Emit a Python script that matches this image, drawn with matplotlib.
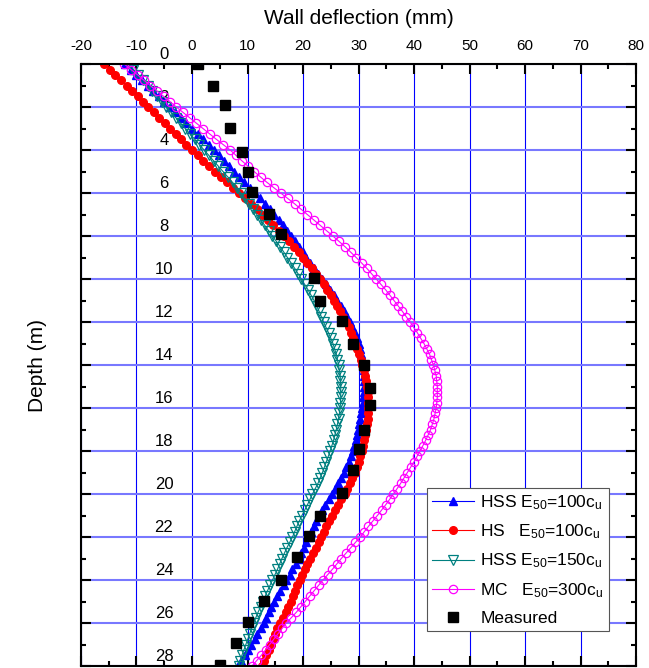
import matplotlib
matplotlib.use("Agg")
import matplotlib.pyplot as plt
import matplotlib.transforms as mtransforms
from matplotlib.ticker import MultipleLocator

plt.rcParams['font.family'] = ['Liberation Sans', 'DejaVu Sans']
plt.rcParams['mathtext.default'] = 'regular'
plt.rcParams['axes.unicode_minus'] = False

# depth of the FE output nodes (m)
depth_model = [
    0.0, 0.25, 0.5, 0.75, 1.0, 1.25, 1.5, 1.75,
    2.0, 2.25, 2.5, 2.75, 3.0, 3.25, 3.5, 3.75,
    4.0, 4.25, 4.5, 4.75, 5.0, 5.25, 5.5, 5.75,
    6.0, 6.25, 6.5, 6.75, 7.0, 7.25, 7.5, 7.75,
    8.0, 8.25, 8.5, 8.75, 9.0, 9.25, 9.5, 9.75,
    10.0, 10.25, 10.5, 10.75, 11.0, 11.25, 11.5, 11.75,
    12.0, 12.25, 12.5, 12.75, 13.0, 13.25, 13.5, 13.75,
    14.0, 14.25, 14.5, 14.75, 15.0, 15.25, 15.5, 15.75,
    16.0, 16.25, 16.5, 16.75, 17.0, 17.25, 17.5, 17.75,
    18.0, 18.25, 18.5, 18.75, 19.0, 19.25, 19.5, 19.75,
    20.0, 20.25, 20.5, 20.75, 21.0, 21.25, 21.5, 21.75,
    22.0, 22.25, 22.5, 22.75, 23.0, 23.25, 23.5, 23.75,
    24.0, 24.25, 24.5, 24.75, 25.0, 25.25, 25.5, 25.75,
    26.0, 26.25, 26.5, 26.75, 27.0, 27.25, 27.5, 27.75,
    28.0]

# wall deflection (mm)
hss_100 = [
    -12.0, -11.0, -10.0, -9.0, -8.0, -7.0, -6.0, -5.0,
    -4.0, -3.0, -2.0, -1.0, 0.0, 1.0, 2.0, 3.0,
    3.9, 4.8, 5.7, 6.6, 7.5, 8.5, 9.4, 10.4,
    11.3, 12.2, 13.1, 14.0, 14.8, 15.6, 16.4, 17.2,
    17.9, 18.6, 19.3, 20.0, 20.6, 21.3, 21.9, 22.7,
    23.5, 24.2, 24.9, 25.6, 26.2, 26.8, 27.4, 28.0,
    28.5, 28.9, 29.3, 29.7, 30.0, 30.3, 30.5, 30.7,
    30.8, 30.9, 30.95, 30.95, 30.95, 30.9, 30.85, 30.75,
    30.6, 30.45, 30.3, 30.1, 29.9, 29.7, 29.5, 29.25,
    29.0, 28.6, 28.2, 27.8, 27.3, 26.8, 26.3, 25.8,
    25.2, 24.6, 24.0, 23.4, 22.8, 22.3, 21.9, 21.5,
    21.1, 20.6, 20.1, 19.7, 19.2, 18.7, 18.1, 17.6,
    17.0, 16.5, 15.9, 15.4, 14.8, 14.3, 13.8, 13.4,
    12.9, 12.4, 11.8, 11.3, 10.7, 10.1, 9.5, 8.9,
    8.3]

hs_100 = [
    -15.8, -14.8, -13.8, -12.8, -11.8, -10.8, -9.8, -8.8,
    -7.9, -6.9, -5.9, -4.9, -3.9, -2.9, -2.0, -1.0,
    0.0, 1.0, 2.0, 3.1, 4.2, 5.2, 6.3, 7.4,
    8.5, 9.5, 10.6, 11.7, 12.7, 13.7, 14.6, 15.6,
    16.6, 17.5, 18.4, 19.2, 20.0, 20.8, 21.6, 22.4,
    23.1, 23.8, 24.4, 25.0, 25.6, 26.2, 26.7, 27.2,
    27.7, 28.2, 28.6, 29.0, 29.4, 29.8, 30.1, 30.4,
    30.7, 31.0, 31.2, 31.4, 31.55, 31.65, 31.75, 31.8,
    31.8, 31.75, 31.7, 31.55, 31.4, 31.2, 31.0, 30.8,
    30.6, 30.3, 30.0, 29.7, 29.3, 28.9, 28.5, 28.0,
    27.5, 26.9, 26.3, 25.7, 25.2, 24.7, 24.2, 23.7,
    23.3, 22.8, 22.3, 21.8, 21.3, 20.8, 20.4, 19.9,
    19.4, 19.0, 18.6, 18.2, 17.75, 17.3, 16.9, 16.4,
    15.9, 15.4, 15.0, 14.6, 14.2, 13.8, 13.4, 13.0,
    12.6]

hss_150 = [
    -11.4, -10.55, -9.7, -8.85, -8.0, -7.15, -6.3, -5.45,
    -4.6, -3.75, -2.9, -2.05, -1.2, -0.35, 0.5, 1.35,
    2.2, 3.05, 3.9, 4.75, 5.6, 6.45, 7.3, 8.05,
    8.8, 9.55, 10.3, 11.0, 11.7, 12.4, 13.1, 13.8,
    14.5, 15.2, 15.9, 16.55, 17.2, 17.85, 18.5, 19.1,
    19.7, 20.3, 20.9, 21.45, 22.0, 22.45, 22.9, 23.3,
    23.7, 24.15, 24.6, 25.0, 25.4, 25.7, 26.0, 26.2,
    26.4, 26.55, 26.7, 26.75, 26.8, 26.8, 26.8, 26.75,
    26.7, 26.55, 26.4, 26.2, 26.0, 25.75, 25.5, 25.2,
    24.9, 24.55, 24.2, 23.85, 23.5, 23.1, 22.7, 22.2,
    21.7, 21.25, 20.8, 20.3, 19.8, 19.35, 18.9, 18.5,
    18.1, 17.6, 17.1, 16.65, 16.2, 15.8, 15.4, 14.95,
    14.5, 14.05, 13.6, 13.2, 12.8, 12.35, 11.9, 11.5,
    11.1, 10.75, 10.4, 10.05, 9.7, 9.35, 9.0, 8.7,
    8.4]

mc_300 = [
    -12.2, -11.0, -9.8, -8.65, -7.5, -6.3, -5.1, -3.95,
    -2.8, -1.6, -0.4, 0.8, 2.0, 3.2, 4.4, 5.65,
    6.9, 7.95, 9.0, 10.1, 11.2, 12.35, 13.5, 14.75,
    16.0, 17.25, 18.5, 19.65, 20.8, 21.95, 23.1, 24.25,
    25.4, 26.5, 27.6, 28.6, 29.6, 30.55, 31.5, 32.35,
    33.2, 34.05, 34.9, 35.65, 36.4, 37.15, 37.9, 38.6,
    39.3, 39.95, 40.6, 41.2, 41.8, 42.3, 42.8, 43.15,
    43.5, 43.75, 44.0, 44.1, 44.2, 44.2, 44.2, 44.1,
    44.0, 43.8, 43.6, 43.3, 43.0, 42.55, 42.1, 41.6,
    41.1, 40.55, 40.0, 39.4, 38.8, 38.2, 37.6, 36.95,
    36.3, 35.6, 34.9, 34.15, 33.4, 32.6, 31.8, 31.05,
    30.3, 29.45, 28.6, 27.75, 26.9, 26.1, 25.3, 24.45,
    23.6, 22.8, 22.0, 21.2, 20.4, 19.6, 18.8, 17.9,
    17.0, 16.25, 15.5, 14.75, 14.0, 13.25, 12.5, 11.65,
    10.8]

# inclinometer readings
depth_meas = [0.0, 1.0, 1.9, 2.95, 4.1, 5.0, 5.97, 6.96, 7.9, 9.95,
              11.04, 11.96, 13.0, 13.98, 15.06, 15.88, 17.03, 17.9, 18.9, 19.93,
              21.0, 21.95, 22.95, 23.99, 24.97, 25.94, 26.93, 27.95]
defl_meas = [1.0, 3.8, 5.9, 6.9, 9.0, 10.0, 10.9, 13.9, 16.0, 21.9,
             23.1, 27.0, 29.0, 31.0, 32.0, 32.0, 31.0, 30.1, 29.0, 27.0,
             23.0, 21.0, 19.0, 16.0, 12.9, 10.0, 7.9, 5.0]

labels = ['HSS E$_{50}$=100c$_{u}$',
          'HS   E$_{50}$=100c$_{u}$',
          'HSS E$_{50}$=150c$_{u}$',
          'MC   E$_{50}$=300c$_{u}$',
          'Measured']
x_ticks = [-20, -10, 0, 10, 20, 30, 40, 50, 60, 70, 80]
depth_ticks = [0, 2, 4, 6, 8, 10, 12, 14, 16, 18, 20, 22, 24, 26, 28]

fig = plt.figure(figsize=(6.49, 6.68), dpi=100)
ax = fig.add_axes([0.1248, 0.003, 0.8552, 0.901])

ax.plot(hss_100, depth_model, '-^', color='#0000ff', lw=0.8, ms=6, label=labels[0])
ax.plot(hs_100, depth_model, '-o', color='#ff0000', lw=0.8, ms=5.5, label=labels[1])
ax.plot(hss_150, depth_model, '-v', color='#008080', lw=0.8, ms=6.5,
        mfc='none', mew=0.9, label=labels[2])
ax.plot(mc_300, depth_model, '-o', color='#ff00ff', lw=0.8, ms=6,
        mfc='none', mew=0.9, label=labels[3])
ax.plot(defl_meas, depth_meas, 's', color='black', ms=7, ls='none',
        zorder=5, label=labels[4])

ax.set_xlim(-20, 80)
ax.set_ylim(28, 0)

ax.xaxis.tick_top()
ax.xaxis.set_label_position('top')
ax.set_xticks(x_ticks)
ax.xaxis.set_minor_locator(MultipleLocator(5))
ax.set_yticks(depth_ticks)
ax.yaxis.set_minor_locator(MultipleLocator(1))
ax.tick_params(which='both', direction='in', top=True, bottom=True,
               left=True, right=True, width=1.5)
ax.tick_params(which='major', length=7)
ax.tick_params(which='minor', length=3.5)
ax.tick_params(axis='x', labeltop=True, labelbottom=False, labelsize=11, pad=8)
ax.tick_params(axis='y', labelleft=False, labelright=False)
for s in ax.spines.values():
    s.set_linewidth(1.5)

ax.set_axisbelow(True)
ax.xaxis.grid(True, which='major', color='#0000ff', lw=0.8)
ax.yaxis.grid(True, which='major', color='#7878ff', lw=1.5)

# depth labels sit inside the frame, just above each grid line
trans = mtransforms.blended_transform_factory(ax.transAxes, ax.transData)
for d in depth_ticks:
    ax.text(0.1495, d - 0.45, str(d), transform=trans, ha='center', va='center',
            fontsize=12, zorder=1, clip_on=False)

ax.set_xlabel('Wall deflection (mm)', fontsize=15, labelpad=11)
ax.set_ylabel('Depth (m)', fontsize=15)
ax.yaxis.set_label_coords(-0.061, 0.5)

leg = ax.legend(loc='lower right', bbox_to_anchor=(0.951, 0.058), fontsize=12.5,
                fancybox=False, framealpha=1, edgecolor='#555555',
                handlelength=2.4, handletextpad=0.4, borderpad=0.3,
                labelspacing=0.62, borderaxespad=0)
leg.get_frame().set_linewidth(0.8)

fig.savefig('out.png', dpi=100)
